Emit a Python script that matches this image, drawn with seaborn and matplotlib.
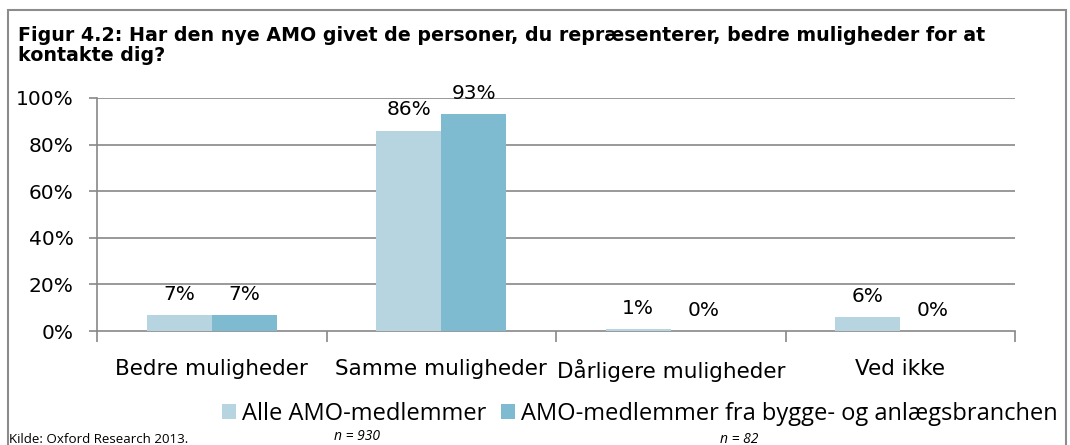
import numpy as np
import pandas as pd
import seaborn as sns
import matplotlib.pyplot as plt
from matplotlib.patches import Rectangle, Patch

categories = ["Bedre muligheder", "Samme muligheder", "Dårligere muligheder", "Ved ikke"]
series_names = ["Alle AMO-medlemmer", "AMO-medlemmer fra bygge- og anlægsbranchen"]
alle = [7, 86, 1, 6]
bygge = [7, 93, 0, 0]
colors = ["#B7D5E0", "#7EBAD0"]
yticks = [0, 20, 40, 60, 80, 100]

df = pd.DataFrame({
    "Kategori": categories * 2,
    "Gruppe": [series_names[0]] * 4 + [series_names[1]] * 4,
    "Andel": alle + bygge,
})

sns.set_theme(style="white")
plt.rcParams["font.family"] = ["DejaVu Sans"]
plt.rcParams["text.color"] = "black"
plt.rcParams["xtick.labelcolor"] = "black"
plt.rcParams["ytick.labelcolor"] = "black"
narrow = ["Liberation Sans Narrow", "Open Sans", "DejaVu Sans"]

fig = plt.figure(figsize=(10.7, 4.45), dpi=100)
ax = fig.add_axes([0.0907, 0.256, 0.858, 0.524])

sns.barplot(data=df, x="Kategori", y="Andel", hue="Gruppe", palette=colors,
            width=0.567, gap=0, saturation=1, ax=ax, legend=False, zorder=3,
            edgecolor="none", linewidth=0)

grid_col = "#888888"
ax.set_xlim(-0.5, 3.5)
ax.set_ylim(0, 100)
ax.set_yticks(yticks)
ax.set_yticklabels([f"{v}%" for v in yticks], fontsize=14.5)
for v in yticks[1:]:
    ax.axhline(v, color=grid_col, lw=1.2, zorder=1)
ax.tick_params(axis="y", length=6, width=1.2, color=grid_col, direction="out", left=True, pad=11)
ax.tick_params(axis="x", which="major", length=0, labelsize=15.5, pad=20)
ax.set_xticks(np.arange(-0.5, 4, 1), minor=True)
ax.tick_params(axis="x", which="minor", length=8, width=1.2, color=grid_col, bottom=True)
ax.set_xlabel("")
ax.set_ylabel("")
for s in ["top", "right"]:
    ax.spines[s].set_visible(False)
for s in ["left", "bottom"]:
    ax.spines[s].set_color(grid_col)
    ax.spines[s].set_linewidth(1.2)

for cont in ax.containers:
    ax.bar_label(cont, labels=[f"{int(round(b.get_height()))}%" for b in cont],
                 padding=8, fontsize=14.5, color="black")

# title
fig.text(0.017, 0.941, "Figur 4.2: Har den nye AMO givet de personer, du repræsenterer, bedre muligheder for at\nkontakte dig?",
         fontsize=13.7, fontweight="bold", va="top", ha="left", linespacing=1.05)

# legend
handles = [Patch(facecolor=c, edgecolor="none") for c in colors]
fig.legend(handles, series_names, loc="lower right", bbox_to_anchor=(0.997, 0.022), ncol=2,
           frameon=False, prop={"family": narrow, "size": 17}, handlelength=0.6,
           handleheight=0.6, handletextpad=0.25, columnspacing=0.6, borderaxespad=0)

fig.text(0.008, 0.005, "Kilde: Oxford Research 2013.", fontsize=9.6, family=narrow)
fig.text(0.312, 0.012, "n = 930", fontsize=10, family=narrow, style="italic")
fig.text(0.673, 0.005, "n = 82", fontsize=10, family=narrow, style="italic")

fig.patches.append(Rectangle((0.0075, -0.05), 0.989, 1.027, transform=fig.transFigure,
                             fill=False, edgecolor="#8c8c8c", lw=1.5))

fig.savefig("out.png", dpi=100)
